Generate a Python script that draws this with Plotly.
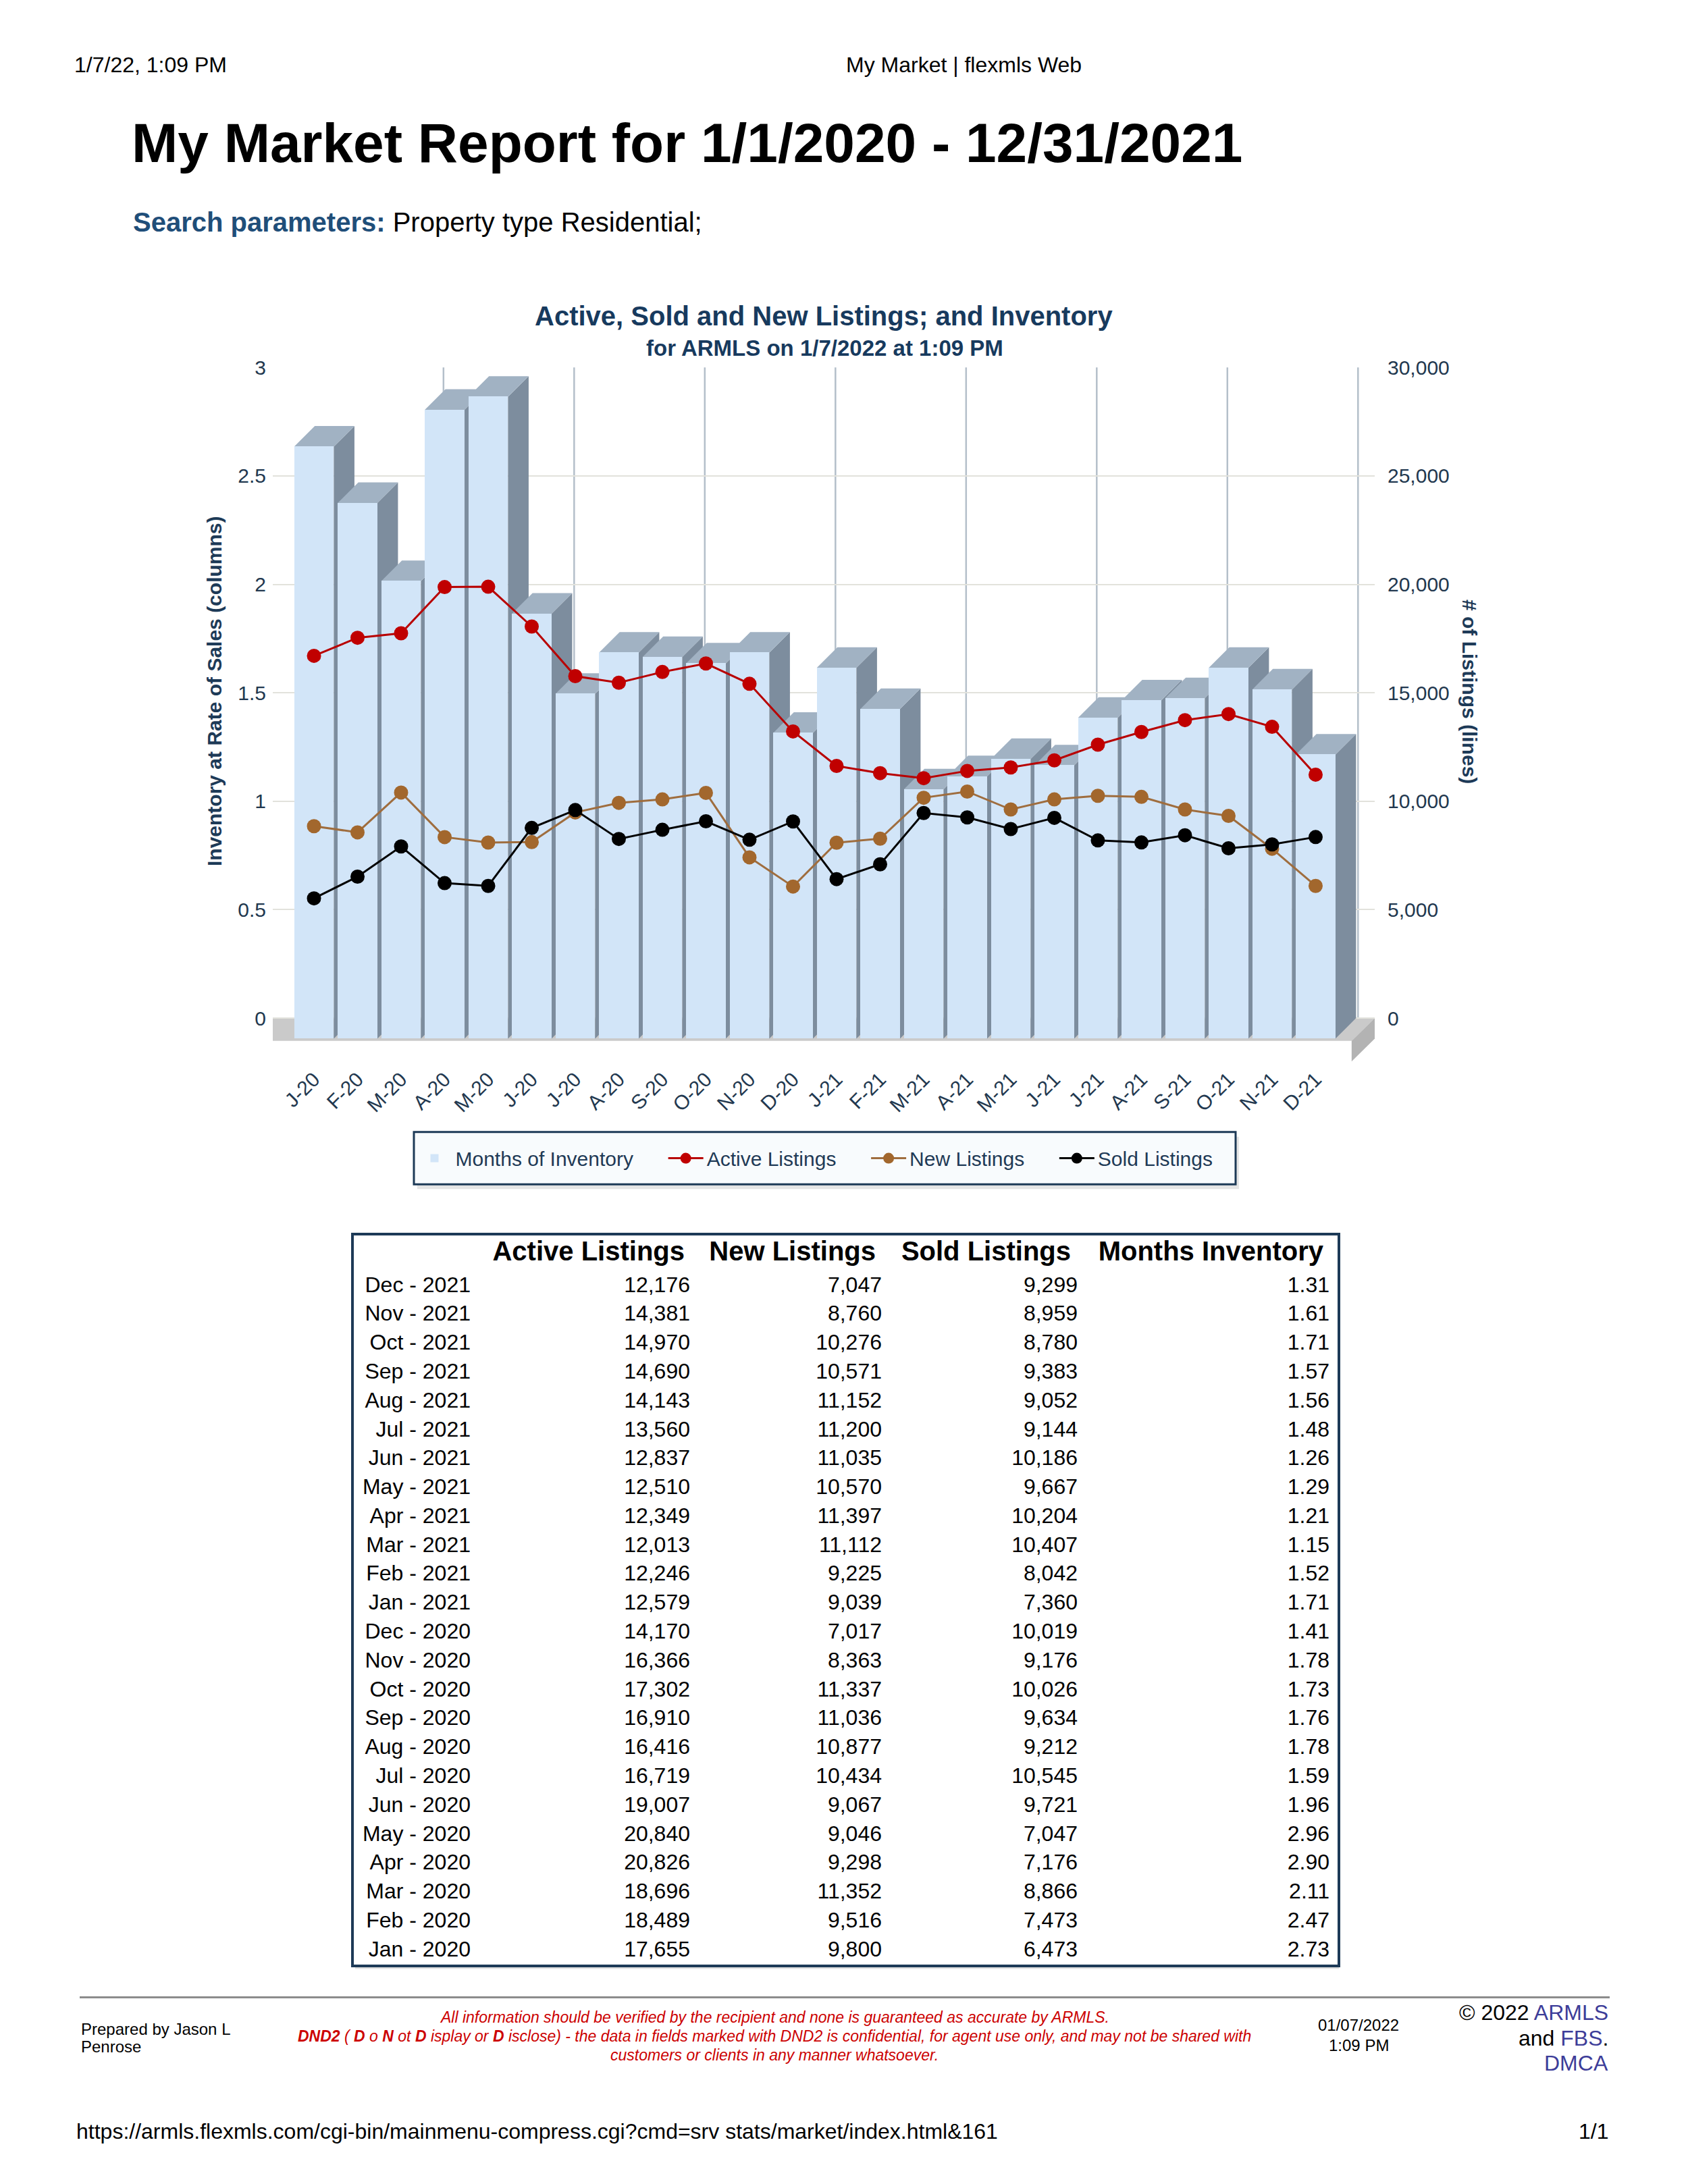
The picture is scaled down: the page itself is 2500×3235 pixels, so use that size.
import plotly.graph_objects as go

W, H = 2500, 3235
FONT = "Liberation Sans, Arial, Helvetica, sans-serif"

# ---------------- data ----------------
month_ticks = ["J-20", "F-20", "M-20", "A-20", "M-20", "J-20", "J-20", "A-20", "S-20", "O-20", "N-20", "D-20",
               "J-21", "F-21", "M-21", "A-21", "M-21", "J-21", "J-21", "A-21", "S-21", "O-21", "N-21", "D-21"]
table_months = ["Jan - 2020", "Feb - 2020", "Mar - 2020", "Apr - 2020", "May - 2020", "Jun - 2020",
                "Jul - 2020", "Aug - 2020", "Sep - 2020", "Oct - 2020", "Nov - 2020", "Dec - 2020",
                "Jan - 2021", "Feb - 2021", "Mar - 2021", "Apr - 2021", "May - 2021", "Jun - 2021",
                "Jul - 2021", "Aug - 2021", "Sep - 2021", "Oct - 2021", "Nov - 2021", "Dec - 2021"]
active_listings = [17655, 18489, 18696, 20826, 20840, 19007, 16719, 16416, 16910, 17302, 16366, 14170,
                   12579, 12246, 12013, 12349, 12510, 12837, 13560, 14143, 14690, 14970, 14381, 12176]
new_listings = [9800, 9516, 11352, 9298, 9046, 9067, 10434, 10877, 11036, 11337, 8363, 7017,
                9039, 9225, 11112, 11397, 10570, 11035, 11200, 11152, 10571, 10276, 8760, 7047]
sold_listings = [6473, 7473, 8866, 7176, 7047, 9721, 10545, 9212, 9634, 10026, 9176, 10019,
                 7360, 8042, 10407, 10204, 9667, 10186, 9144, 9052, 9383, 8780, 8959, 9299]
months_inventory = [2.73, 2.47, 2.11, 2.90, 2.96, 1.96, 1.59, 1.78, 1.76, 1.73, 1.78, 1.41,
                    1.71, 1.52, 1.15, 1.21, 1.29, 1.26, 1.48, 1.56, 1.57, 1.71, 1.61, 1.31]
left_ticks = [0, 0.5, 1, 1.5, 2, 2.5, 3]
left_ticktext = ["0", "0.5", "1", "1.5", "2", "2.5", "3"]
right_ticks = [0, 5000, 10000, 15000, 20000, 25000, 30000]
table_headers = ["Active Listings", "New Listings", "Sold Listings", "Months Inventory"]

# ---------------- layout geometry ----------------
def px(x):
    return x / W

def py(y):
    return 1 - y / H

PLOT_L, PLOT_R, PLOT_T, PLOT_B = 404, 2036, 530, 1566
X_RANGE = [-0.946, 24.357]
Y_RANGE = [-0.206, 3.003]
RATIO = 10000          # right axis units per left axis unit
DX = 0.474             # 3D depth, category units
DY = 0.095             # 3D depth, left-axis units
HW = 0.455             # half width of bar front face
FLOOR_DX, FLOOR_DY, FLOOR_T = 0.53, 0.105, 0.095
LEG_PAD = "\u00a0" * 5

NAVY = "#1d3a57"
TICK_COLOR = "#22384f"

n = len(months_inventory)
idx = list(range(n))

# ---------------- 3D bar faces (back-plane axis) ----------------
side_x, side_y, top_x, top_y = [], [], [], []
for i, v in zip(idx, months_inventory):
    side_x += [i + HW, i + HW, i + HW + DX, i + HW + DX, i + HW, None]
    side_y += [-DY, v - DY, v, 0, -DY, None]
    top_x += [i - HW, i + HW, i + HW + DX, i - HW + DX, i - HW, None]
    top_y += [v - DY, v - DY, v, v, v - DY, None]

fig = go.Figure()

fig.add_trace(go.Scatter(x=side_x, y=side_y, mode="lines", fill="toself", fillcolor="#7d8d9e",
                         line=dict(width=0, color="#7d8d9e"), showlegend=False, hoverinfo="skip",
                         xaxis="x", yaxis="y"))
fig.add_trace(go.Scatter(x=top_x, y=top_y, mode="lines", fill="toself", fillcolor="#a1b2c3",
                         line=dict(width=0, color="#a1b2c3"), showlegend=False, hoverinfo="skip",
                         xaxis="x", yaxis="y"))
# right axis holder
fig.add_trace(go.Scatter(x=[None], y=[None], xaxis="x", yaxis="y2", showlegend=False, hoverinfo="skip"))

# front faces
fig.add_trace(go.Bar(x=idx, y=months_inventory, width=2 * HW, name="Months of Inventory" + LEG_PAD,
                     marker=dict(color="#d2e5f8", line=dict(width=0)),
                     xaxis="x", yaxis="y3"))

line_specs = [("Active Listings" + LEG_PAD, active_listings, "#b80000", "#c00000"),
              ("New Listings" + LEG_PAD, new_listings, "#9f6d3e", "#a2672d"),
              ("Sold Listings", sold_listings, "#000000", "#000000")]
for name, vals, lc, mc in line_specs:
    fig.add_trace(go.Scatter(x=idx, y=vals, name=name, mode="lines+markers",
                             line=dict(color=lc, width=3),
                             marker=dict(color=mc, size=21, symbol="circle"),
                             xaxis="x", yaxis="y4"))

# ---------------- table (text on its own axes) ----------------
TABLE_L, TABLE_R, TABLE_T, TABLE_B = 524, 1981, 1823, 2908
COL_RIGHT = [173, 498, 782, 1072, 1445]
HEAD_RIGHT = [490, 773, 1062, 1436]
ROW_RANGE = [24.465, -0.767]
HEADER_ROW = -0.14
rows = [n - k for k in range(n)]
columns = [
    table_months,
    [f"{v:,}" for v in active_listings],
    [f"{v:,}" for v in new_listings],
    [f"{v:,}" for v in sold_listings],
    [f"{v:.2f}" for v in months_inventory],
]
for cx, col in zip(COL_RIGHT, columns):
    fig.add_trace(go.Scatter(x=[cx] * n, y=rows, text=col, mode="text", textposition="middle left",
                             textfont=dict(size=32, color="#000000", family=FONT),
                             showlegend=False, hoverinfo="skip", xaxis="x5", yaxis="y5"))
fig.add_trace(go.Scatter(x=HEAD_RIGHT, y=[HEADER_ROW] * len(table_headers),
                         text=[f"<b>{h}</b>" for h in table_headers], mode="text",
                         textposition="middle left",
                         textfont=dict(size=40, color="#000000", family=FONT),
                         showlegend=False, hoverinfo="skip", xaxis="x5", yaxis="y5"))

# ---------------- shapes ----------------
shapes = []
grid_pos = [2.5 + 3 * k for k in range(7)] + [n - 0.5]
for g in grid_pos:
    shapes.append(dict(type="line", xref="x", yref="y", x0=g + DX, x1=g + DX, y0=0, y1=3,
                       line=dict(color="#b4bfca", width=2.5), layer="below"))
x_lo, x_hi = X_RANGE
shapes.append(dict(type="path", xref="x", yref="y", layer="below",
                   path=f"M {x_lo - FLOOR_DX},{-FLOOR_DY} L {x_lo},0 L {x_hi},0 L {x_hi - FLOOR_DX},{-FLOOR_DY} Z",
                   fillcolor="#cacaca", line=dict(width=0)))
shapes.append(dict(type="path", xref="x", yref="y", layer="below",
                   path=(f"M {x_hi - FLOOR_DX},{-FLOOR_DY} L {x_hi},0 L {x_hi},{-FLOOR_T} "
                         f"L {x_hi - FLOOR_DX},{-FLOOR_DY - FLOOR_T} Z"),
                   fillcolor="#b3b3b3", line=dict(width=0)))
# legend box with shadow
LEG_L, LEG_R, LEG_T, LEG_B = 613, 1830, 1669, 1747
shapes.append(dict(type="rect", xref="paper", yref="paper", layer="below",
                   x0=px(LEG_L + 5), x1=px(LEG_R + 5), y0=py(LEG_B + 7), y1=py(LEG_T + 7),
                   fillcolor="rgba(0,0,0,0.10)", line=dict(width=0)))
shapes.append(dict(type="rect", xref="paper", yref="paper", layer="below",
                   x0=px(LEG_L), x1=px(LEG_R), y0=py(LEG_B), y1=py(LEG_T),
                   fillcolor="#f8fbfd", line=dict(color=NAVY, width=3)))
# table shadow
shapes.append(dict(type="line", xref="paper", yref="paper", layer="below",
                   x0=px(TABLE_L + 2), x1=px(TABLE_R + 2), y0=py(TABLE_B + 5), y1=py(TABLE_B + 5),
                   line=dict(color="rgba(0,0,0,0.12)", width=4)))
# footer rule
shapes.append(dict(type="line", xref="paper", yref="paper", x0=px(118), x1=px(2384),
                   y0=py(2957), y1=py(2957), line=dict(color="#8c8c8c", width=3)))

# ---------------- annotations ----------------
def ann(text, x, y, size, xanchor="left", color="#000000", angle=0):
    return dict(text=text, x=px(x), y=py(y), xref="paper", yref="paper", xanchor=xanchor,
                yanchor="middle", showarrow=False, textangle=angle,
                font=dict(size=size, color=color, family=FONT))

RED = "#cc0000"
LINK = "#3d3d99"
annotations = [
    ann("1/7/22, 1:09 PM", 108, 80, 32),
    ann("My Market | flexmls Web", 1427, 80, 32, "center"),
    ann("<b>My Market Report for 1/1/2020 - 12/31/2021</b>", 193, 196, 82),
    ann("<b><span style='color:#1f4e79'>Search parameters:</span></b> Property type Residential;", 195, 315, 40),
    ann("<b>Active, Sold and New Listings; and Inventory</b>", 1220, 454, 40, "center", "#173a5e"),
    ann("<b>for ARMLS on 1/7/2022 at 1:09 PM</b>", 1221, 502, 33, "center", "#173a5e"),
    ann("<b>Inventory at Rate of Sales (columns)</b>", 318, 1013, 30, "center", NAVY, -90),
    ann("<b># of Listings (lines)</b>", 2176, 1013, 30, "center", NAVY, 90),
    ann("Prepared by Jason L", 118, 3004, 24),
    ann("Penrose", 118, 3030, 24),
    ann("<i>All information should be verified by the recipient and none is guaranteed as accurate by ARMLS.</i>",
        1147, 2987, 23, "center", RED),
    ann("<i><b>DND2</b> ( <b>D</b> o <b>N</b> ot <b>D</b> isplay or <b>D</b> isclose) - the data in fields marked "
        "with DND2 is confidential, for agent use only, and may not be shared with</i>",
        1147, 3015, 23, "center", RED),
    ann("<i>customers or clients in any manner whatsoever.</i>", 1147, 3043, 23, "center", RED),
    ann("01/07/2022", 2012, 2998, 24, "center"),
    ann("1:09 PM", 2012, 3028, 24, "center"),
    ann(f"© 2022 <span style='color:{LINK}'>ARMLS</span>", 2384, 2980, 32, "right"),
    ann(f"and <span style='color:{LINK}'>FBS</span>.", 2384, 3018, 32, "right"),
    ann(f"<span style='color:{LINK}'>DMCA</span>", 2384, 3055, 32, "right"),
    ann("https://armls.flexmls.com/cgi-bin/mainmenu-compress.cgi?cmd=srv stats/market/index.html&161",
        111, 3157, 32),
    ann("1/1", 2384, 3157, 32, "right"),
]

tickfont = dict(size=30, color=TICK_COLOR, family=FONT)
chart_x_domain = [px(PLOT_L), px(PLOT_R)]
chart_y_domain = [py(PLOT_B), py(PLOT_T)]

fig.update_layout(
    width=W, height=H, margin=dict(l=0, r=0, t=0, b=0),
    paper_bgcolor="white", plot_bgcolor="rgba(0,0,0,0)",
    font=dict(family=FONT, color=TICK_COLOR),
    barmode="overlay", bargap=0,
    showlegend=True,
    legend=dict(orientation="h", x=px(1207), xanchor="center",
                y=py((LEG_T + LEG_B) / 2), yanchor="middle",
                bgcolor="rgba(0,0,0,0)", borderwidth=0,
                font=dict(size=30, color="#1f3a56", family=FONT), itemwidth=52),
    xaxis=dict(domain=chart_x_domain, range=X_RANGE, tickmode="array", tickvals=idx,
               ticktext=month_ticks, tickangle=-45, showgrid=False, zeroline=False,
               showline=False, ticks="", tickfont=tickfont, anchor="y"),
    yaxis=dict(domain=chart_y_domain, range=Y_RANGE, tickmode="array", tickvals=left_ticks,
               ticktext=left_ticktext, showgrid=True, gridcolor="#e2e2dc", gridwidth=2,
               zeroline=False, showline=False, ticks="", tickfont=tickfont, anchor="x",
               ticklabelstandoff=9),
    yaxis2=dict(overlaying="y", side="right", anchor="x",
                range=[Y_RANGE[0] * RATIO, Y_RANGE[1] * RATIO], tickmode="array",
                tickvals=right_ticks, tickformat=",", showgrid=False, zeroline=False,
                showline=False, ticks="", tickfont=tickfont, ticklabelstandoff=18),
    yaxis3=dict(overlaying="y", anchor="x", range=[Y_RANGE[0] + DY, Y_RANGE[1] + DY], visible=False),
    yaxis4=dict(overlaying="y", anchor="x",
                range=[(Y_RANGE[0] + DY) * RATIO, (Y_RANGE[1] + DY) * RATIO], visible=False),
    xaxis5=dict(domain=[px(TABLE_L), px(TABLE_R)], range=[0, TABLE_R - TABLE_L], anchor="y5",
                showgrid=False, zeroline=False, showticklabels=False, ticks="",
                showline=True, mirror=True, linecolor=NAVY, linewidth=4),
    yaxis5=dict(domain=[py(TABLE_B), py(TABLE_T)], range=ROW_RANGE, anchor="x5",
                showgrid=False, zeroline=False, showticklabels=False, ticks="",
                showline=True, mirror=True, linecolor=NAVY, linewidth=4),
    shapes=shapes,
    annotations=annotations,
)

fig.write_html("out.html", config={"displayModeBar": False},
               post_script="document.body.style.margin='0';document.body.style.padding='0';"
                           "document.documentElement.style.overflow='hidden';")
